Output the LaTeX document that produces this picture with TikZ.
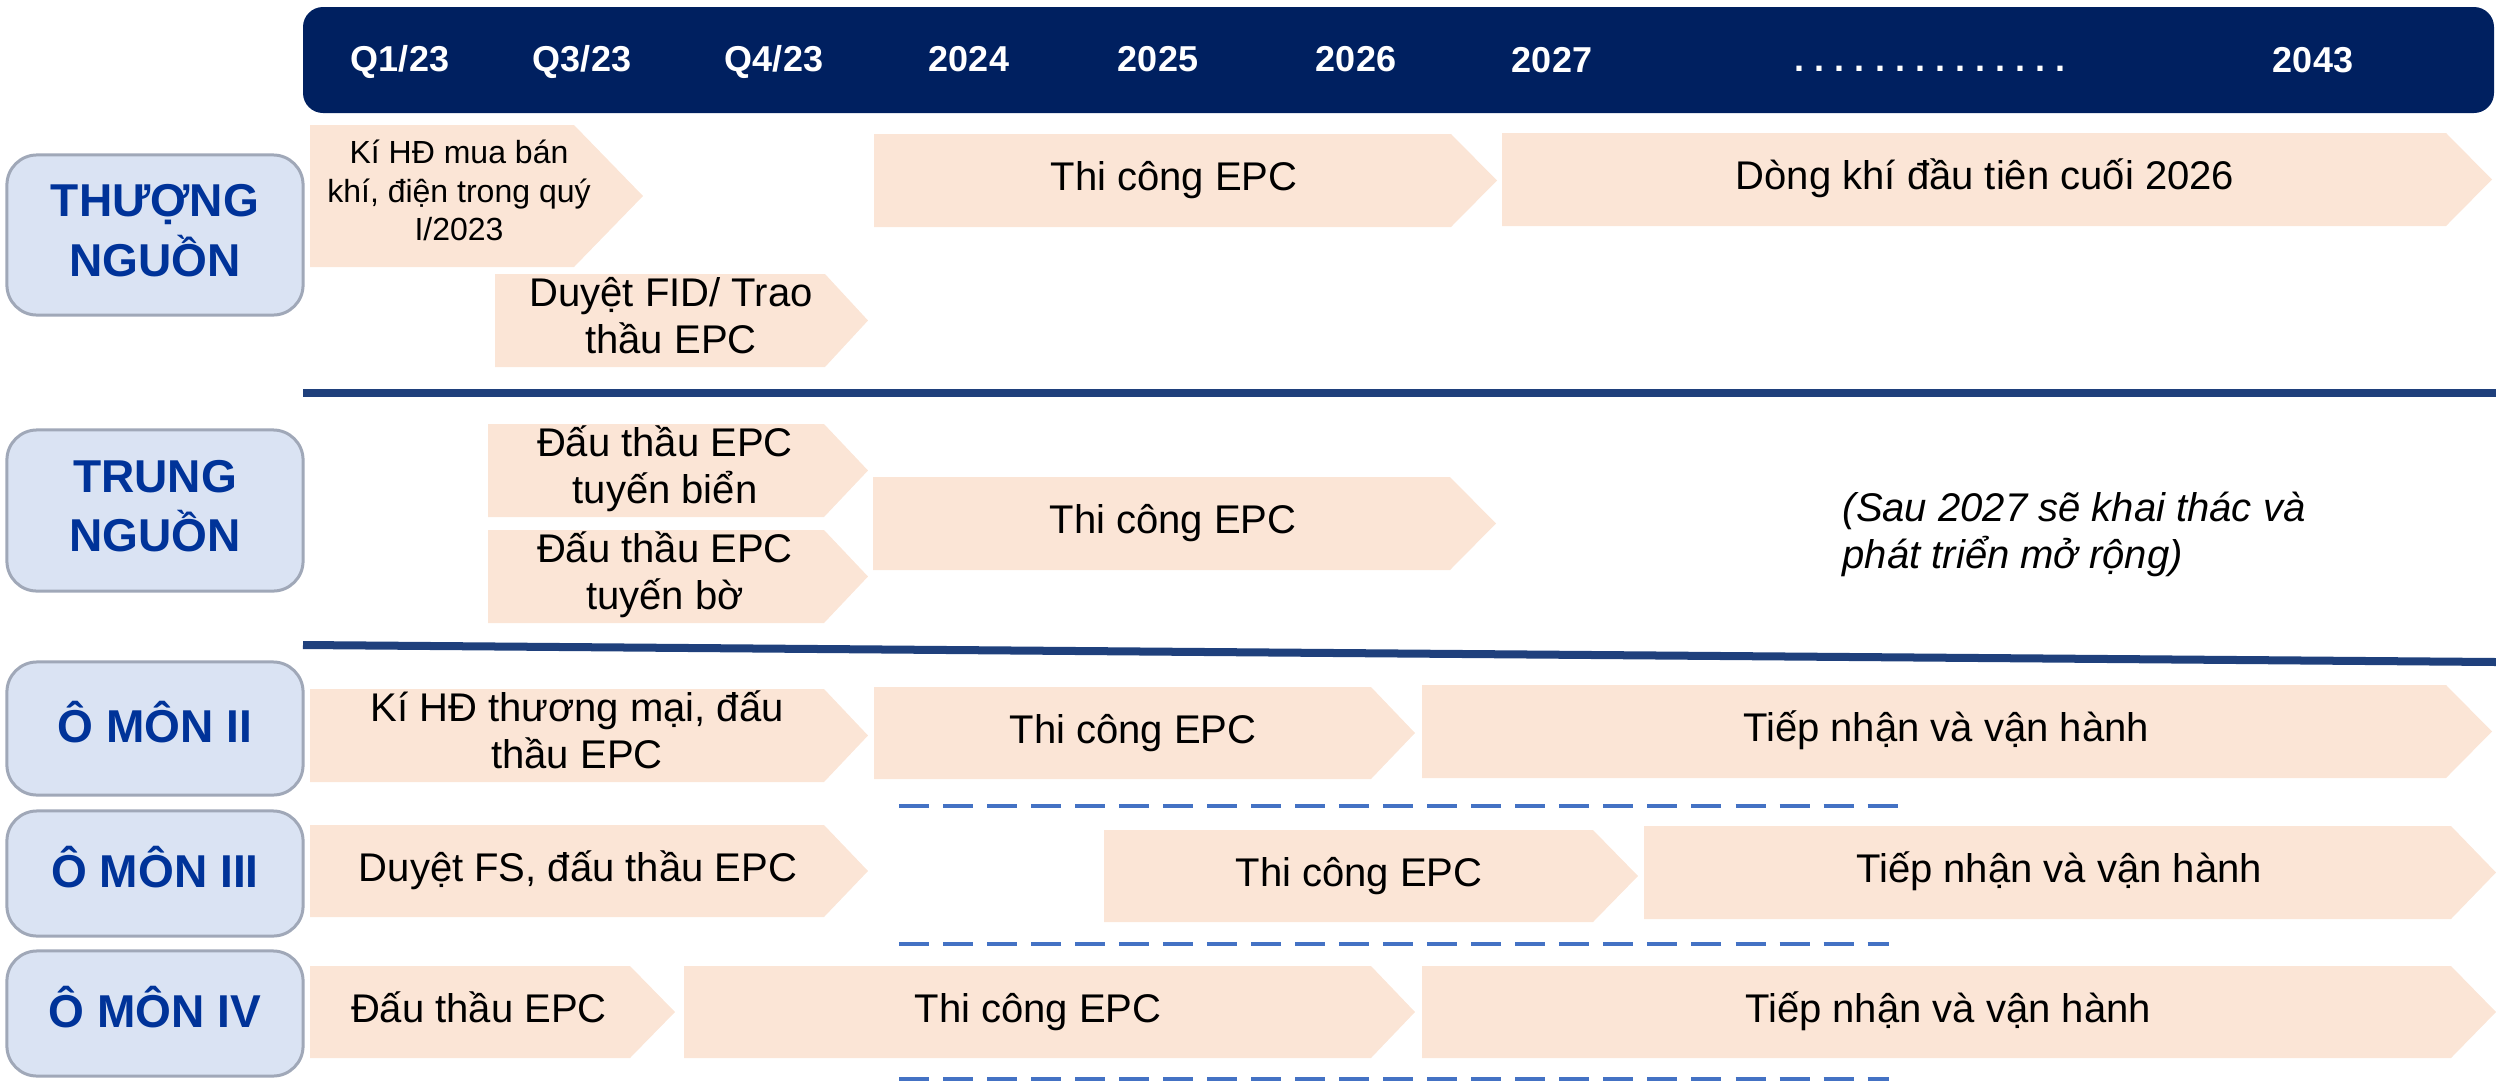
\documentclass[tikz,border=0pt]{standalone}
\usepackage{fontspec}
\setmainfont{Liberation Sans}
\frenchspacing

\definecolor{barnavy}{RGB}{0,32,96}
\definecolor{peach}{RGB}{251,229,214}
\definecolor{catfill}{RGB}{218,227,243}
\definecolor{catborder}{RGB}{160,168,184}
\definecolor{catblue}{RGB}{0,51,153}
\definecolor{sepblue}{RGB}{31,64,124}
\definecolor{dashblue}{RGB}{68,114,196}

% every text line carries the same strut so that nodes centre alike
\newcommand\mystrut{\rule[-0.3em]{0pt}{1.1em}}
\lineskiplimit=-100pt

% chevron: name, left x, flat right x, tip x, top y, bottom y
\newcommand\drawchev[6]{%
  \fill[peach] (#2,#5) -- (#3,#5) -- (#4,{(#5+#6)/2}) -- (#3,#6) -- (#2,#6) -- cycle;
  \coordinate (#1) at ({(#2+#3)/2},{(#5+#6)/2});}

\tikzset{
  lbl/.style={font=\fontsize{11.38}{13.37}\selectfont, align=center, inner sep=0pt},
  lblsmall/.style={font=\fontsize{9.1}{10.95}\selectfont, align=center, inner sep=0pt},
  note/.style={font=\itshape\fontsize{11.38}{13.37}\selectfont, align=left, inner sep=0pt},
  hdr/.style={font=\bfseries\fontsize{10.24}{12}\selectfont, text=white, inner sep=0pt},
  catbox/.style={draw=catborder, line width=0.03cm, fill=catfill, rounded corners=0.3cm,
    minimum width=2.96cm, text=catblue, align=center, inner sep=0pt,
    font=\bfseries\fontsize{13.1}{16.8}\selectfont},
  sepline/.style={draw=sepblue, line width=0.08cm},
  dashline/.style={draw=dashblue, line width=0.04cm, dash pattern=on 0.3cm off 0.14cm},
}

\begin{document}
\begin{tikzpicture}[x=0.01cm, y=-0.01cm]
\useasboundingbox (0,0) rectangle (2496,1081);

% time axis
\fill[barnavy, rounded corners=0.2cm] (303,7) rectangle (2494,113);
\node[hdr] (h1) at (400,62) {\mystrut Q1/23};
\node[hdr] (h2) at (582,62) {\mystrut Q3/23};
\node[hdr] (h3) at (774,62) {\mystrut Q4/23};
\node[hdr] (h4) at (969,62) {\mystrut 2024};
\node[hdr] (h5) at (1158,62) {\mystrut 2025};
\node[hdr] (h6) at (1356,62) {\mystrut 2026};
\node[hdr] (h7) at (1552,63) {\mystrut 2027};
\node[hdr] (h8) at (1930,62) {\mystrut . . . . . . . . . . . . . .};
\node[hdr] (h9) at (2313,63) {\mystrut 2043};

% row headings
\node[catbox, minimum height=1.6cm] (up) at (155,235) {\mystrut THƯỢNG\\\mystrut NGUỒN};
\node[catbox, minimum height=1.61cm] (mid) at (155,510.5) {\mystrut TRUNG\\\mystrut NGUỒN};
\node[catbox, minimum height=1.33cm] (om2) at (155,728.5) {\mystrut Ô MÔN II};
\node[catbox, minimum height=1.25cm] (om3) at (155,873.5) {\mystrut Ô MÔN III};
\node[catbox, minimum height=1.25cm] (om4) at (155,1013.5) {\mystrut Ô MÔN IV};

% separators
\coordinate (s1a) at (303,393);  \coordinate (s1b) at (2496,393);
\coordinate (s2a) at (303,645);  \coordinate (s2b) at (2496,662);
\draw[sepline] (s1a) -- (s1b);
\draw[sepline] (s2a) -- (s2b);

% upstream
\drawchev{c1}{310}{574}{643}{125}{267}
\drawchev{c2}{495}{825}{868}{274}{367}
\drawchev{c3}{874}{1451}{1497}{134}{227}
\drawchev{c4}{1502}{2446}{2492}{133}{226}
\node[lblsmall] (t1) at (459,194) {\mystrut Kí HĐ mua bán\\\mystrut khí, điện trong quý\\\mystrut I/2023};
\node[lbl] (t2) at (671,320) {\mystrut Duyệt FID/ Trao\\\mystrut thầu EPC};
\node[lbl] (t3) at (1174,180) {\mystrut Thi công EPC};
\node[lbl] (t4) at (1985,179) {\mystrut Dòng khí đầu tiên cuối 2026};

% midstream
\drawchev{c5}{488}{824}{868}{424}{517}
\drawchev{c6}{488}{824}{868}{530}{623}
\drawchev{c7}{873}{1450}{1496}{477}{570}
\node[lbl] (t5) at (665,470) {\mystrut Đấu thầu EPC\\\mystrut tuyến biển};
\node[lbl] (t6) at (665,576) {\mystrut Đấu thầu EPC\\\mystrut tuyến bờ};
\node[lbl] (t7) at (1173,523) {\mystrut Thi công EPC};
\node[note, anchor=west] (t8) at (1842,535) {\mystrut (Sau 2027 sẽ khai thác và\\\mystrut phát triển mở rộng)};

% O Mon II
\drawchev{c9}{310}{824}{868}{689}{782}
\drawchev{c10}{874}{1371}{1415}{687}{779}
\drawchev{c11}{1422}{2446}{2492}{685}{778}
\node[lbl] (t9) at (577,735) {\mystrut Kí HĐ thương mại, đấu\\\mystrut thầu EPC};
\node[lbl] (t10) at (1133,733) {\mystrut Thi công EPC};
\node[lbl] (t11) at (1946,731) {\mystrut Tiếp nhận và vận hành};

% O Mon III
\drawchev{c12}{310}{824}{868}{825}{917}
\drawchev{c13}{1104}{1593}{1638}{830}{922}
\drawchev{c14}{1644}{2451}{2496}{826}{919}
\node[lbl] (t12) at (578,871) {\mystrut Duyệt FS, đấu thầu EPC};
\node[lbl] (t13) at (1359,876) {\mystrut Thi công EPC};
\node[lbl] (t14) at (2059,872) {\mystrut Tiếp nhận và vận hành};

% O Mon IV
\drawchev{c15}{310}{630}{675}{966}{1058}
\drawchev{c16}{684}{1371}{1415}{966}{1058}
\drawchev{c17}{1422}{2451}{2496}{966}{1058}
\node[lbl] (t15) at (479,1012) {\mystrut Đấu thầu EPC};
\node[lbl] (t16) at (1038,1012) {\mystrut Thi công EPC};
\node[lbl] (t17) at (1948,1012) {\mystrut Tiếp nhận và vận hành};

% dashed row dividers
\coordinate (d1a) at (899,806);  \coordinate (d1b) at (1911,806);
\coordinate (d2a) at (899,944);  \coordinate (d2b) at (1889,944);
\coordinate (d3a) at (899,1079); \coordinate (d3b) at (1889,1079);
\draw[dashline] (d1a) -- (d1b);
\draw[dashline] (d2a) -- (d2b);
\draw[dashline] (d3a) -- (d3b);
\end{tikzpicture}
\end{document}
